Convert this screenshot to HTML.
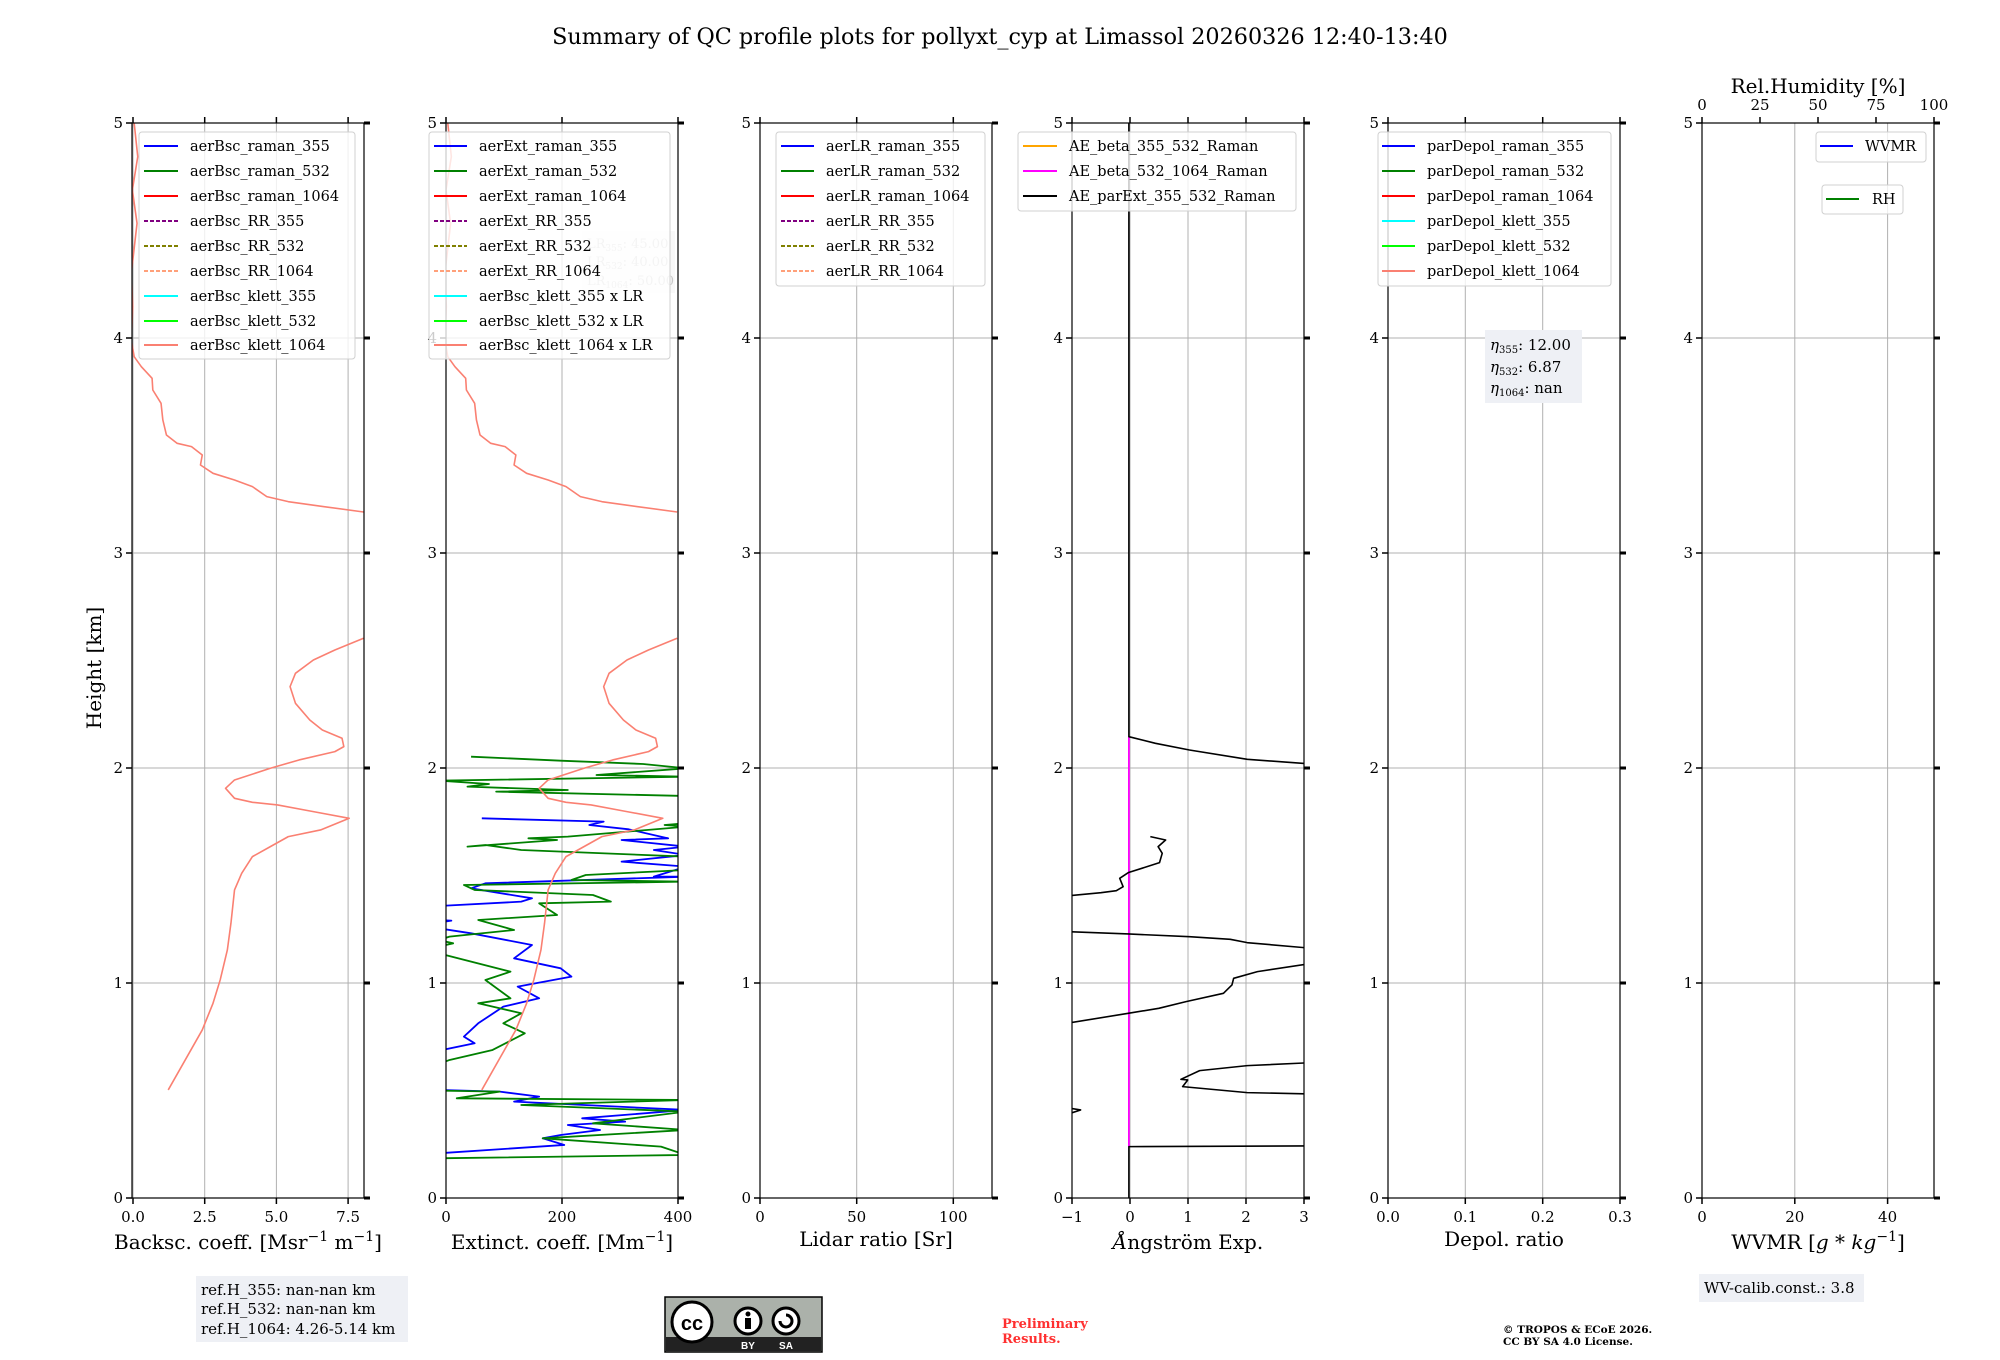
<!DOCTYPE html>
<html><head><meta charset="utf-8"><style>
html,body{margin:0;padding:0;background:#fff;}
svg{display:block;}
text{font-family:"DejaVu Serif","Liberation Serif",serif;fill:#000;}
.tk{font-size:15px;}
.al{font-size:20px;}
.lg{font-size:14.5px;}
.grid line{stroke:#b0b0b0;stroke-width:1;}
.ax{fill:none;stroke:#000;stroke-width:1.2;}
.d{fill:none;vector-effect:non-scaling-stroke;stroke-linejoin:round;}
</style></head><body>
<svg width="2000" height="1360" viewBox="0 0 2000 1360" xmlns="http://www.w3.org/2000/svg">
<defs>
<clipPath id="c1"><rect x="135" y="123" width="232" height="1075"/></clipPath>
<clipPath id="c2"><rect x="449" y="123" width="232" height="1075"/></clipPath>
<clipPath id="c4"><rect x="1075" y="123" width="232" height="1075"/></clipPath>
</defs>
<text x="1000" y="44" text-anchor="middle" style="font-size:22.3px">Summary of QC profile plots for pollyxt_cyp at Limassol 20260326 12:40-13:40</text>

<g transform="translate(-3,0)">
<!-- grids -->
<g class="grid">
<g id="hg">
<line x1="135" x2="367" y1="338" y2="338"/><line x1="135" x2="367" y1="553" y2="553"/><line x1="135" x2="367" y1="768" y2="768"/><line x1="135" x2="367" y1="983" y2="983"/>
</g>
<use href="#hg" x="314"/><use href="#hg" x="628"/><use href="#hg" x="940"/><use href="#hg" x="1256"/><use href="#hg" x="1570"/>
<line x1="136" x2="136" y1="123" y2="1198"/><line x1="207.7" x2="207.7" y1="123" y2="1198"/><line x1="279.4" x2="279.4" y1="123" y2="1198"/><line x1="351.1" x2="351.1" y1="123" y2="1198"/>
<line x1="565" x2="565" y1="123" y2="1198"/>
<line x1="859.7" x2="859.7" y1="123" y2="1198"/><line x1="956.3" x2="956.3" y1="123" y2="1198"/>
<line x1="1133" x2="1133" y1="123" y2="1198"/><line x1="1191" x2="1191" y1="123" y2="1198"/><line x1="1249" x2="1249" y1="123" y2="1198"/>
<line x1="1468.3" x2="1468.3" y1="123" y2="1198"/><line x1="1545.7" x2="1545.7" y1="123" y2="1198"/>
<line x1="1797.8" x2="1797.8" y1="123" y2="1198"/><line x1="1890.6" x2="1890.6" y1="123" y2="1198"/>
</g>

<g clip-path="url(#c1)">
<path id="pk" class="d" stroke="#fa8072" stroke-width="1.6" transform="translate(130,340) scale(0.3584,0.3333)" d="M20,-651 L30,-550 L15,-450 L28,-350 L12,-200 L16,-100 L12,0 L20,50 L40,80 L70,115 L72,150 L95,190 L100,240 L110,285 L140,310 L180,320 L210,345 L205,375 L240,400 L300,420 L350,440 L390,470 L450,485 L550,500 L660,516 M660,895 L580,930 L520,960 L470,1000 L455,1040 L470,1090 L510,1140 L545,1170 L600,1195 L605,1220 L580,1235 L480,1260 L400,1285 L300,1320 L275,1345 L300,1375 L350,1387 L420,1395 L520,1415 L620,1435 L540,1470 L450,1490 L400,1520 L350,1550 L320,1600 L300,1650 L290,1750 L280,1830 L260,1920 L240,1990 L210,2070 L115,2250"/>
</g>
<g clip-path="url(#c2)">
<g transform="translate(130,740) scale(0.3584,0.3333)">
<path class="d" stroke="#0000ff" stroke-width="1.8" d="M990,235 L1330,245 L1290,255 L1400,268 L1510,295 L1380,300 L1560,320 L1470,330 L1560,345 L1380,365 L1560,380 L1470,410 L1560,410 L1000,430 L960,445 L1130,475 L1100,485 L870,498 M870,540 L905,542 L870,548 M870,565 L960,580 L1130,615 L1080,655 L1210,685 L1240,710 L1090,740 L1150,775 L1050,800 L980,850 L940,890 L970,910 L870,932 M870,1050 L1040,1055 L1150,1070 L1080,1085 L1560,1110 L1270,1135 L1390,1145 L1230,1155 L1320,1170 L1210,1185 L1160,1195 L1220,1215 L870,1240"/>
<path class="d" stroke="#008000" stroke-width="1.8" d="M960,50 L1210,62 L1440,72 L1560,85 L1310,105 L1560,110 L870,122 L1010,132 L950,140 L1230,150 L1030,155 L1560,168 M1560,250 L1500,255 L1560,260 L1230,290 L1120,295 L1200,300 L950,320 L1000,315 L1100,330 L1560,350 M1560,390 L1280,405 L1240,420 L1560,425 L940,435 L970,450 L1300,465 L1350,485 L1150,490 L1200,525 L980,540 L1080,570 L900,590 L870,600 L910,610 L870,620 M870,640 L1070,695 L1000,720 L1070,775 L980,790 L1100,820 L1050,850 L1110,880 L1020,930 L900,960 L870,972 M870,1052 L1040,1055 L920,1075 L1560,1080 L1100,1095 L1560,1115 L1300,1150 L1560,1170 L1160,1195 L1490,1220 L1560,1245 L870,1255"/>
</g>
<use href="#pk" x="313.6"/>
</g>
<g clip-path="url(#c4)">
<g transform="translate(1070,700) scale(0.3401,0.3333)">
<path class="d" stroke="#ff00ff" stroke-width="1.8" d="M182,110 L182,1340"/>
<path class="d" stroke="#000" stroke-width="1.6" d="M182,-1740 L182,110 L260,130 L360,150 L530,178 L720,192 M245,410 L290,420 L268,440 L280,460 L272,488 L180,518 L155,535 L165,560 L145,572 L100,578 L0,588 M0,695 L180,702 L360,710 L480,718 L530,728 L720,745 M720,790 L560,815 L490,835 L485,855 L460,880 L350,905 L270,925 L180,940 L0,970 M720,1088 L530,1097 L390,1112 L335,1138 L355,1140 L340,1160 L530,1178 L720,1182 M10,1240 L40,1230 L10,1225 M720,1338 L182,1340 L182,1500"/>
</g>
</g>

<g id="fr">
<rect class="ax" x="135" y="123" width="232" height="1075"/>
<g stroke="#000" stroke-width="1.5">
<line x1="129" x2="135" y1="123" y2="123"/><line x1="129" x2="135" y1="338" y2="338"/><line x1="129" x2="135" y1="553" y2="553"/><line x1="129" x2="135" y1="768" y2="768"/><line x1="129" x2="135" y1="983" y2="983"/><line x1="129" x2="135" y1="1198" y2="1198"/>
</g>
<g stroke="#000" stroke-width="3">
<line x1="367" x2="373" y1="123" y2="123"/><line x1="367" x2="373" y1="338" y2="338"/><line x1="367" x2="373" y1="553" y2="553"/><line x1="367" x2="373" y1="768" y2="768"/><line x1="367" x2="373" y1="983" y2="983"/><line x1="367" x2="373" y1="1198" y2="1198"/>
</g>
<g class="tk" text-anchor="end">
<text x="126" y="128">5</text><text x="126" y="343">4</text><text x="126" y="558">3</text><text x="126" y="773">2</text><text x="126" y="988">1</text><text x="126" y="1203">0</text>
</g>
</g>
<use href="#fr" x="314"/><use href="#fr" x="628"/>
<g transform="translate(940,0)"><use href="#fr"/></g>
<use href="#fr" x="1256"/><use href="#fr" x="1570"/>

<g stroke="#000" stroke-width="1.5">
<path d="M136,1198v6M207.7,1198v6M279.4,1198v6M351.1,1198v6M136,123v-6M207.7,123v-6M279.4,123v-6M351.1,123v-6"/>
<path d="M449,1198v6M565,1198v6M681,1198v6M449,123v-6M565,123v-6M681,123v-6"/>
<path d="M763,1198v6M859.7,1198v6M956.3,1198v6M763,123v-6M859.7,123v-6M956.3,123v-6"/>
<path d="M1075,1198v6M1133,1198v6M1191,1198v6M1249,1198v6M1307,1198v6M1075,123v-6M1133,123v-6M1191,123v-6M1249,123v-6M1307,123v-6"/>
<path d="M1391,1198v6M1468.3,1198v6M1545.7,1198v6M1623,1198v6M1391,123v-6M1468.3,123v-6M1545.7,123v-6M1623,123v-6"/>
<path d="M1705,1198v6M1797.8,1198v6M1890.6,1198v6M1705,123v-6M1763,123v-6M1821,123v-6M1879,123v-6M1937,123v-6"/>
</g>
<g class="tk" text-anchor="middle">
<text x="136" y="1222">0.0</text><text x="207.7" y="1222">2.5</text><text x="279.4" y="1222">5.0</text><text x="351.1" y="1222">7.5</text>
<text x="449" y="1222">0</text><text x="565" y="1222">200</text><text x="681" y="1222">400</text>
<text x="763" y="1222">0</text><text x="859.7" y="1222">50</text><text x="956.3" y="1222">100</text>
<text x="1075" y="1222">−1</text><text x="1133" y="1222">0</text><text x="1191" y="1222">1</text><text x="1249" y="1222">2</text><text x="1307" y="1222">3</text>
<text x="1391" y="1222">0.0</text><text x="1468.3" y="1222">0.1</text><text x="1545.7" y="1222">0.2</text><text x="1623" y="1222">0.3</text>
<text x="1705" y="1222">0</text><text x="1797.8" y="1222">20</text><text x="1890.6" y="1222">40</text>
<text x="1705" y="110">0</text><text x="1763" y="110">25</text><text x="1821" y="110">50</text><text x="1879" y="110">75</text><text x="1937" y="110">100</text>
</g>
<g class="al" text-anchor="middle">
<text x="251" y="1249">Backsc. coeff. [Msr<tspan dy="-8" font-size="14">−1</tspan><tspan dy="8"> m</tspan><tspan dy="-8" font-size="14">−1</tspan><tspan dy="8">]</tspan></text>
<text x="565" y="1249">Extinct. coeff. [Mm<tspan dy="-8" font-size="14">−1</tspan><tspan dy="8">]</tspan></text>
<text x="879" y="1246">Lidar ratio [Sr]</text>
<text x="1191" y="1249"><tspan font-style="italic">Å</tspan>ngström Exp.</text>
<text x="1507" y="1246">Depol. ratio</text>
<text x="1821" y="1249">WVMR [<tspan font-style="italic">g</tspan> * <tspan font-style="italic">kg</tspan><tspan dy="-8" font-size="14">−1</tspan><tspan dy="8">]</tspan></text>
<text x="1821" y="93">Rel.Humidity [%]</text>
<text transform="translate(104,668) rotate(-90)">Height [km]</text>
</g>

<rect x="585" y="231" width="93" height="62" fill="#f4f4f4" opacity="0.6"/>
<g font-size="13">
<text x="590" y="248" style="fill:#c8c8c8">LR<tspan font-size="9" dy="3">355</tspan><tspan dy="-3">: 45.00</tspan></text>
<text x="590" y="266" style="fill:#c8c8c8">LR<tspan font-size="9" dy="3">532</tspan><tspan dy="-3">: 40.00</tspan></text>
<text x="590" y="285" style="fill:#c8c8c8">LR<tspan font-size="9" dy="3">1064</tspan><tspan dy="-3">: 50.00</tspan></text>
</g>

<g class="lg">
<rect x="142" y="132" width="216" height="227" rx="3" fill="#fff" fill-opacity="0.8" stroke="#d0d0d0"/>
<g stroke-width="2">
<line x1="147" x2="181" y1="146" y2="146" stroke="#0000ff"/><line x1="147" x2="181" y1="171" y2="171" stroke="#008000"/><line x1="147" x2="181" y1="196" y2="196" stroke="#ff0000"/>
<line x1="147" x2="181" y1="221" y2="221" stroke="#800080" stroke-dasharray="4,2"/><line x1="147" x2="181" y1="246" y2="246" stroke="#808000" stroke-dasharray="4,2"/><line x1="147" x2="181" y1="271" y2="271" stroke="#ffa07a" stroke-dasharray="4,2"/>
<line x1="147" x2="181" y1="296" y2="296" stroke="#00ffff"/><line x1="147" x2="181" y1="321" y2="321" stroke="#00ff00"/><line x1="147" x2="181" y1="345" y2="345" stroke="#fa8072"/>
</g>
<text x="193" y="151">aerBsc_raman_355</text><text x="193" y="176">aerBsc_raman_532</text><text x="193" y="201">aerBsc_raman_1064</text><text x="193" y="226">aerBsc_RR_355</text><text x="193" y="251">aerBsc_RR_532</text><text x="193" y="276">aerBsc_RR_1064</text><text x="193" y="301">aerBsc_klett_355</text><text x="193" y="326">aerBsc_klett_532</text><text x="193" y="350">aerBsc_klett_1064</text>

<rect x="432" y="132" width="241" height="227" rx="3" fill="#fff" fill-opacity="0.8" stroke="#d0d0d0"/>
<g stroke-width="2">
<line x1="437" x2="470" y1="146" y2="146" stroke="#0000ff"/><line x1="437" x2="470" y1="171" y2="171" stroke="#008000"/><line x1="437" x2="470" y1="196" y2="196" stroke="#ff0000"/>
<line x1="437" x2="470" y1="221" y2="221" stroke="#800080" stroke-dasharray="4,2"/><line x1="437" x2="470" y1="246" y2="246" stroke="#808000" stroke-dasharray="4,2"/><line x1="437" x2="470" y1="271" y2="271" stroke="#ffa07a" stroke-dasharray="4,2"/>
<line x1="437" x2="470" y1="296" y2="296" stroke="#00ffff"/><line x1="437" x2="470" y1="321" y2="321" stroke="#00ff00"/><line x1="437" x2="470" y1="345" y2="345" stroke="#fa8072"/>
</g>
<text x="482" y="151">aerExt_raman_355</text><text x="482" y="176">aerExt_raman_532</text><text x="482" y="201">aerExt_raman_1064</text><text x="482" y="226">aerExt_RR_355</text><text x="482" y="251">aerExt_RR_532</text><text x="482" y="276">aerExt_RR_1064</text><text x="482" y="301">aerBsc_klett_355 x LR</text><text x="482" y="326">aerBsc_klett_532 x LR</text><text x="482" y="350">aerBsc_klett_1064 x LR</text>

<rect x="779" y="132" width="209" height="154" rx="3" fill="#fff" fill-opacity="0.8" stroke="#d0d0d0"/>
<g stroke-width="2">
<line x1="784" x2="817" y1="146" y2="146" stroke="#0000ff"/><line x1="784" x2="817" y1="171" y2="171" stroke="#008000"/><line x1="784" x2="817" y1="196" y2="196" stroke="#ff0000"/>
<line x1="784" x2="817" y1="221" y2="221" stroke="#800080" stroke-dasharray="4,2"/><line x1="784" x2="817" y1="246" y2="246" stroke="#808000" stroke-dasharray="4,2"/><line x1="784" x2="817" y1="271" y2="271" stroke="#ffa07a" stroke-dasharray="4,2"/>
</g>
<text x="829" y="151">aerLR_raman_355</text><text x="829" y="176">aerLR_raman_532</text><text x="829" y="201">aerLR_raman_1064</text><text x="829" y="226">aerLR_RR_355</text><text x="829" y="251">aerLR_RR_532</text><text x="829" y="276">aerLR_RR_1064</text>

<rect x="1021" y="132" width="278" height="79" rx="3" fill="#fff" fill-opacity="0.8" stroke="#d0d0d0"/>
<g stroke-width="2">
<line x1="1026" x2="1060" y1="146" y2="146" stroke="#ffa500"/><line x1="1026" x2="1060" y1="171" y2="171" stroke="#ff00ff"/><line x1="1026" x2="1060" y1="196" y2="196" stroke="#000"/>
</g>
<text x="1072" y="151">AE_beta_355_532_Raman</text><text x="1072" y="176">AE_beta_532_1064_Raman</text><text x="1072" y="201">AE_parExt_355_532_Raman</text>

<rect x="1381" y="132" width="233" height="154" rx="3" fill="#fff" fill-opacity="0.8" stroke="#d0d0d0"/>
<g stroke-width="2">
<line x1="1385" x2="1418" y1="146" y2="146" stroke="#0000ff"/><line x1="1385" x2="1418" y1="171" y2="171" stroke="#008000"/><line x1="1385" x2="1418" y1="196" y2="196" stroke="#ff0000"/>
<line x1="1385" x2="1418" y1="221" y2="221" stroke="#00ffff"/><line x1="1385" x2="1418" y1="246" y2="246" stroke="#00ff00"/><line x1="1385" x2="1418" y1="271" y2="271" stroke="#fa8072"/>
</g>
<text x="1430" y="151">parDepol_raman_355</text><text x="1430" y="176">parDepol_raman_532</text><text x="1430" y="201">parDepol_raman_1064</text><text x="1430" y="226">parDepol_klett_355</text><text x="1430" y="251">parDepol_klett_532</text><text x="1430" y="276">parDepol_klett_1064</text>

<rect x="1819" y="132" width="110" height="30" rx="3" fill="#fff" fill-opacity="0.8" stroke="#d0d0d0"/>
<line x1="1823" x2="1856" y1="146" y2="146" stroke="#0000ff" stroke-width="2"/>
<text x="1868" y="151">WVMR</text>
<rect x="1825" y="185" width="81" height="29" rx="3" fill="#fff" fill-opacity="0.8" stroke="#d0d0d0"/>
<line x1="1829" x2="1862" y1="199" y2="199" stroke="#008000" stroke-width="2"/>
<text x="1875" y="204">RH</text>
</g>

<rect x="1488" y="330" width="97" height="73" fill="#eef0f5"/>
<g font-size="15">
<text x="1493" y="350"><tspan font-style="italic">η</tspan><tspan font-size="10" dy="3">355</tspan><tspan dy="-3">: 12.00</tspan></text>
<text x="1493" y="372"><tspan font-style="italic">η</tspan><tspan font-size="10" dy="3">532</tspan><tspan dy="-3">: 6.87</tspan></text>
<text x="1493" y="393"><tspan font-style="italic">η</tspan><tspan font-size="10" dy="3">1064</tspan><tspan dy="-3">: nan</tspan></text>
</g>
</g>

<rect x="196" y="1276" width="212" height="66" fill="#eef0f5"/>
<g font-size="15">
<text x="201" y="1295">ref.H_355: nan-nan km</text>
<text x="201" y="1314">ref.H_532: nan-nan km</text>
<text x="201" y="1334">ref.H_1064: 4.26-5.14 km</text>
</g>
<rect x="1699" y="1274" width="165" height="28" fill="#eef0f5"/>
<text x="1704" y="1293" font-size="15">WV-calib.const.: 3.8</text>

<rect x="665" y="1297" width="157" height="55" fill="#abb1aa" stroke="#000" stroke-width="1.5"/>
<rect x="666" y="1337" width="155" height="14" fill="#222"/>
<circle cx="692" cy="1322" r="20" fill="#fff" stroke="#000" stroke-width="3"/>
<text x="692" y="1330" text-anchor="middle" font-size="20" font-weight="bold" style="font-family:'Liberation Sans',sans-serif">cc</text>
<circle cx="748" cy="1321" r="13" fill="#fff" stroke="#000" stroke-width="3"/>
<circle cx="748" cy="1314" r="2.5" fill="#000"/><rect x="745" y="1318" width="6" height="11" fill="#000"/>
<circle cx="786" cy="1321" r="13" fill="#fff" stroke="#000" stroke-width="3"/>
<path d="M780,1321a6,6 0 1 0 6,-6" fill="none" stroke="#000" stroke-width="3"/>
<text x="748" y="1349" text-anchor="middle" font-size="10" font-weight="bold" style="fill:#fff;font-family:'Liberation Sans',sans-serif">BY</text>
<text x="786" y="1349" text-anchor="middle" font-size="10" font-weight="bold" style="fill:#fff;font-family:'Liberation Sans',sans-serif">SA</text>

<text x="1002" y="1328" font-size="13" font-weight="bold" style="fill:#ff3030">Preliminary</text>
<text x="1002" y="1343" font-size="13" font-weight="bold" style="fill:#ff3030">Results.</text>
<text x="1503" y="1333" font-size="10.5" font-weight="bold">© TROPOS &amp; ECoE 2026.</text>
<text x="1503" y="1345" font-size="10.5" font-weight="bold">CC BY SA 4.0 License.</text>
</svg>
</body></html>
